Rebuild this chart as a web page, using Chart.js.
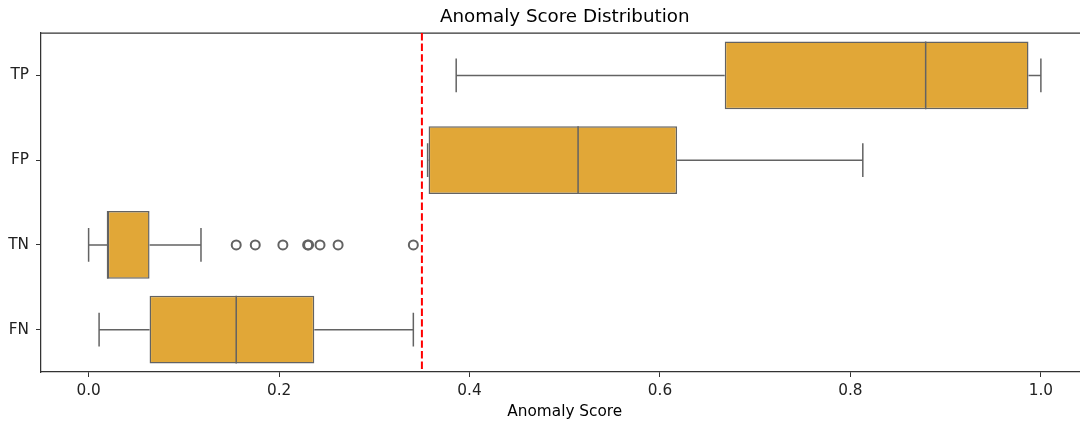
<!DOCTYPE html>
<html>
<head>
<meta charset="utf-8">
<script src="https://cdn.jsdelivr.net/npm/chart.js@4"></script>
<style>
  html, body { margin: 0; padding: 0; background: #fff; overflow: hidden; }
  #wrap { width: 1095px; height: 421px; }
</style>
</head>
<body>
<div id="wrap"><canvas id="chart"></canvas></div>
<script>
// box stats per class
const categories = ['TP', 'FP', 'TN', 'FN'];
const whiskerLow = [0.386, 0.356, 0.0, 0.011];
const q1 = [0.668, 0.357, 0.020, 0.064];
const median = [0.879, 0.514, 0.020, 0.155];
const q3 = [0.987, 0.618, 0.064, 0.237];
const whiskerHigh = [1.0, 0.813, 0.118, 0.341];
const tnOutliers = [0.155, 0.175, 0.204, 0.230, 0.231, 0.243, 0.262, 0.341];
const threshold = 0.35;
const xTicks = [0.0, 0.2, 0.4, 0.6, 0.8, 1.0];
const titleText = 'Anomaly Score Distribution';

const boxFill = '#e1a737';
const lineGray = '#636363';
const font = "'DejaVu Sans', sans-serif";

// whiskers, caps, medians, top spine, threshold line and the title
// (title centred over the axes like matplotlib, not over the canvas)
const boxExtras = {
  id: 'boxExtras',
  afterDatasetsDraw(chart) {
    const ctx = chart.ctx;
    const x = chart.scales.x;
    const y = chart.scales.y;
    const area = chart.chartArea;
    const band = Math.abs(y.getPixelForValue(1) - y.getPixelForValue(0));
    const half = band * 0.8 / 2;
    const cap = half / 2;

    ctx.save();
    ctx.strokeStyle = lineGray;
    ctx.lineWidth = 1.5;
    categories.forEach((c, i) => {
      const cy = y.getPixelForValue(i);
      const lo = x.getPixelForValue(whiskerLow[i]);
      const a = x.getPixelForValue(q1[i]);
      const b = x.getPixelForValue(q3[i]);
      const hi = x.getPixelForValue(whiskerHigh[i]);
      const m = x.getPixelForValue(median[i]);
      ctx.beginPath();
      ctx.moveTo(lo, cy); ctx.lineTo(a, cy);
      ctx.moveTo(b, cy); ctx.lineTo(hi, cy);
      ctx.moveTo(lo, cy - cap); ctx.lineTo(lo, cy + cap);
      ctx.moveTo(hi, cy - cap); ctx.lineTo(hi, cy + cap);
      ctx.moveTo(m, cy - half); ctx.lineTo(m, cy + half);
      ctx.stroke();
    });

    // top spine
    ctx.strokeStyle = '#333';
    ctx.lineWidth = 1.25;
    ctx.beginPath();
    ctx.moveTo(area.left, area.top);
    ctx.lineTo(area.right, area.top);
    ctx.stroke();

    // threshold
    const tx = x.getPixelForValue(threshold);
    ctx.strokeStyle = '#ff0000';
    ctx.lineWidth = 2;
    ctx.setLineDash([7.4, 3.2]);
    ctx.beginPath();
    ctx.moveTo(tx, area.top);
    ctx.lineTo(tx, area.bottom);
    ctx.stroke();
    ctx.setLineDash([]);

    // title
    ctx.fillStyle = '#000';
    ctx.font = '18.3px ' + font;
    ctx.textAlign = 'center';
    ctx.textBaseline = 'middle';
    ctx.fillText(titleText, (area.left + area.right) / 2, area.top - 16);
    ctx.restore();
  }
};

new Chart(document.getElementById('chart'), {
  type: 'bar',
  data: {
    labels: categories,
    datasets: [
      {
        type: 'line',
        label: 'outliers',
        data: tnOutliers.map(v => ({ x: v, y: 'TN' })),
        showLine: false,
        pointRadius: 4.5,
        pointBorderWidth: 2,
        pointBorderColor: lineGray,
        pointBackgroundColor: 'rgba(0,0,0,0)',
        order: 0
      },
      {
        label: 'box',
        data: categories.map((c, i) => [q1[i], q3[i]]),
        backgroundColor: boxFill,
        borderColor: lineGray,
        borderWidth: 1.5,
        borderSkipped: false,
        barPercentage: 0.8,
        categoryPercentage: 1,
        order: 1
      }
    ]
  },
  options: {
    indexAxis: 'y',
    responsive: true,
    maintainAspectRatio: false,
    animation: false,
    layout: { padding: { left: 0, right: 2, top: 33, bottom: 0 } },
    plugins: {
      legend: { display: false },
      tooltip: { enabled: false },
      title: { display: false }
    },
    scales: {
      x: {
        type: 'linear',
        min: -0.05,
        max: 1.05,
        afterBuildTicks(scale) { scale.ticks = xTicks.map(v => ({ value: v })); },
        afterFit(scale) { scale.height = 49; },
        grid: { drawOnChartArea: false, tickLength: 5, color: '#333', tickWidth: 1 },
        border: { color: '#333', width: 1.25 },
        ticks: {
          color: '#222',
          font: { family: font, size: 15.3 },
          padding: 5,
          maxRotation: 0,
          callback: v => v.toFixed(1)
        },
        title: {
          display: true,
          text: 'Anomaly Score',
          color: '#000',
          font: { family: font, size: 15.3 },
          padding: { top: 2, bottom: 0 }
        }
      },
      y: {
        type: 'category',
        afterFit(scale) { scale.width = 41; },
        grid: { drawOnChartArea: false, tickLength: 5, color: '#333', tickWidth: 1, offset: false },
        border: { color: '#333', width: 1.25 },
        ticks: {
          color: '#222',
          font: { family: font, size: 15.3 },
          padding: 7
        }
      }
    }
  },
  plugins: [boxExtras]
});
</script>
</body>
</html>
